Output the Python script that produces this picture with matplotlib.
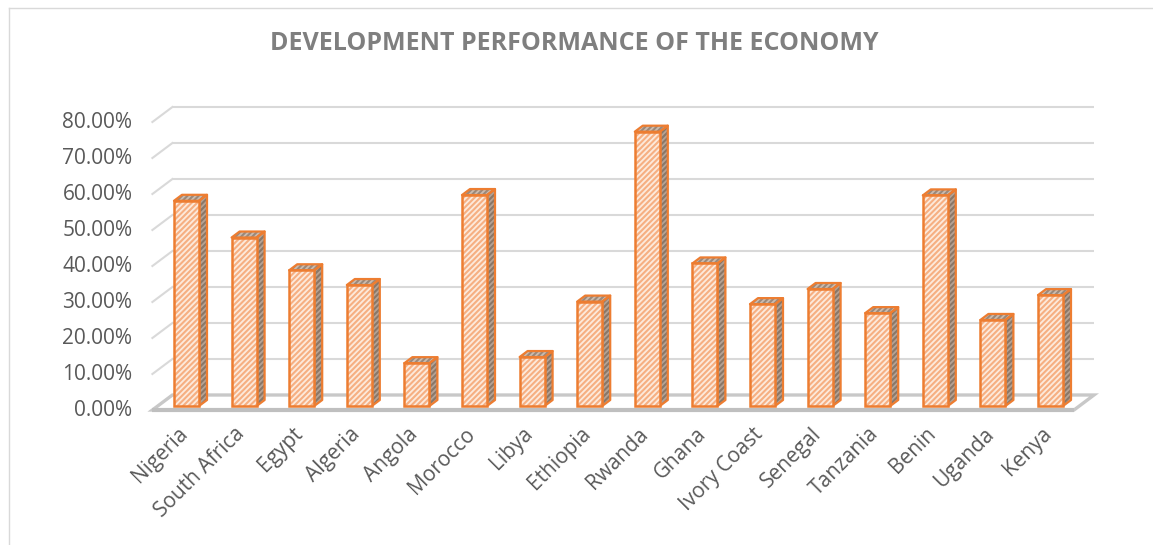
import matplotlib.pyplot as plt
from matplotlib.patches import Polygon
from matplotlib.lines import Line2D
import numpy as np

plt.rcParams["font.family"] = ["Open Sans", "DejaVu Sans"]
plt.rcParams["hatch.linewidth"] = 1.5

# -- data --------------------------------------------------------------------
COUNTRIES = ["Nigeria", "South Africa", "Egypt", "Algeria", "Angola", "Morocco",
             "Libya", "Ethiopia", "Rwanda", "Ghana", "Ivory Coast", "Senegal",
             "Tanzania", "Benin", "Uganda", "Kenya"]
VALUES = [57.0, 46.8, 37.7, 33.6, 11.9, 58.6, 13.6, 29.0,
          76.2, 39.6, 28.3, 32.5, 25.8, 58.5, 23.9, 30.8]
Y_TICKS = [0, 10, 20, 30, 40, 50, 60, 70, 80]
TITLE = "DEVELOPMENT PERFORMANCE OF THE ECONOMY"

# -- fake 3D geometry (pixel scale of the reference) -------------------------
W_PX, H_PX = 1153, 545
X0_PX = 186.5      # centre of first bar front face
Y0_PX = 406        # bar front bottom, from top
PX_CAT = 57.6      # px per category
PX_PCT = 3.6       # px per percent


def off(dx_px, dy_px):
    return dx_px / PX_CAT, dy_px / PX_PCT


BAR_W = 25 / PX_CAT
BAR_D = off(8, 6)        # bar depth
BACK = off(14.7, 11)     # back wall relative to bar front plane
FRONT = off(-5.3, -4)    # floor front edge relative to bar front plane
X_LEFT, X_RIGHT = -0.5, len(COUNTRIES) - 0.5

GRID = "#D9D9D9"
ORANGE = "#ED7D31"
TEXT = "#595959"

fig = plt.figure(figsize=(W_PX / 100, H_PX / 100), dpi=100)
ax = fig.add_axes([0, 0, 1, 1])
ax.set_xlim(-X0_PX / PX_CAT, (W_PX - X0_PX) / PX_CAT)
ax.set_ylim(-(H_PX - Y0_PX) / PX_PCT, Y0_PX / PX_PCT)
ax.set_axis_off()

# chart area border
fig.add_artist(Line2D([9 / W_PX, 9 / W_PX], [0, 1 - 8 / H_PX], color=GRID, lw=1,
                      transform=fig.transFigure))
fig.add_artist(Line2D([9 / W_PX, 1], [1 - 8 / H_PX, 1 - 8 / H_PX], color=GRID, lw=1,
                      transform=fig.transFigure))

# walls: gridlines on back wall + diagonals on left wall
for t in Y_TICKS[1:]:
    ax.plot([X_LEFT + BACK[0], X_RIGHT + BACK[0]], [t + BACK[1]] * 2,
            color=GRID, lw=1.5, solid_capstyle="butt", zorder=1)
    ax.plot([X_LEFT + FRONT[0], X_LEFT + BACK[0]], [t + FRONT[1], t + BACK[1]],
            color=GRID, lw=1.5, zorder=1)

# floor
floor = Polygon([(X_LEFT + FRONT[0], FRONT[1]), (X_RIGHT + FRONT[0], FRONT[1]),
                 (X_RIGHT + BACK[0], BACK[1]), (X_LEFT + BACK[0], BACK[1])],
                closed=True, facecolor="white", edgecolor="#C8C8C8", lw=2.4, zorder=2)
ax.add_patch(floor)
ax.plot([X_LEFT + FRONT[0], X_RIGHT + FRONT[0]], [FRONT[1]] * 2,
        color="#BFBFBF", lw=3, solid_capstyle="butt", zorder=2)

# bars
x = np.arange(len(COUNTRIES))
vals = np.array(VALUES)
for xi, v in zip(x, vals):
    r = xi + BAR_W / 2
    l = xi - BAR_W / 2
    side = [(r, 0), (r + BAR_D[0], BAR_D[1]), (r + BAR_D[0], v + BAR_D[1]), (r, v)]
    top = [(l, v), (r, v), (r + BAR_D[0], v + BAR_D[1]), (l + BAR_D[0], v + BAR_D[1])]
    for pts, fc, hc in [(side, "#B5A294", "#8A7767"), (top, "#CBBBAF", "#9A887A")]:
        ax.add_patch(Polygon(pts, closed=True, facecolor=fc, edgecolor=hc,
                             hatch="//////", lw=0, zorder=3))
        ax.add_patch(Polygon(pts, closed=True, fill=False, edgecolor=ORANGE,
                             lw=1.6, joinstyle="round", zorder=4))

ax.bar(x, vals, BAR_W, color="#FDEADC", edgecolor="#F6AF82", hatch="//////",
       linewidth=0, zorder=5)
ax.bar(x, vals, BAR_W, fill=False, edgecolor=ORANGE, linewidth=1.8, zorder=6)

# value axis labels on the front plane
for t in Y_TICKS:
    ax.text(X_LEFT + FRONT[0] - 20 / PX_CAT, t + FRONT[1], f"{t:.2f}%",
            ha="right", va="center", fontsize=15, color=TEXT)

# category labels
for xi, name in zip(x, COUNTRIES):
    ax.text(xi + FRONT[0] + 3 / PX_CAT, FRONT[1] - 21 / PX_PCT, name,
            rotation=45, rotation_mode="anchor", ha="right", va="center",
            fontsize=15, color=TEXT)

fig.text(574 / W_PX, 1 - 44 / H_PX, TITLE, ha="center", va="center",
         fontsize=18, fontweight="bold", color="#7F7F7F")

fig.savefig("out.png", dpi=100)
